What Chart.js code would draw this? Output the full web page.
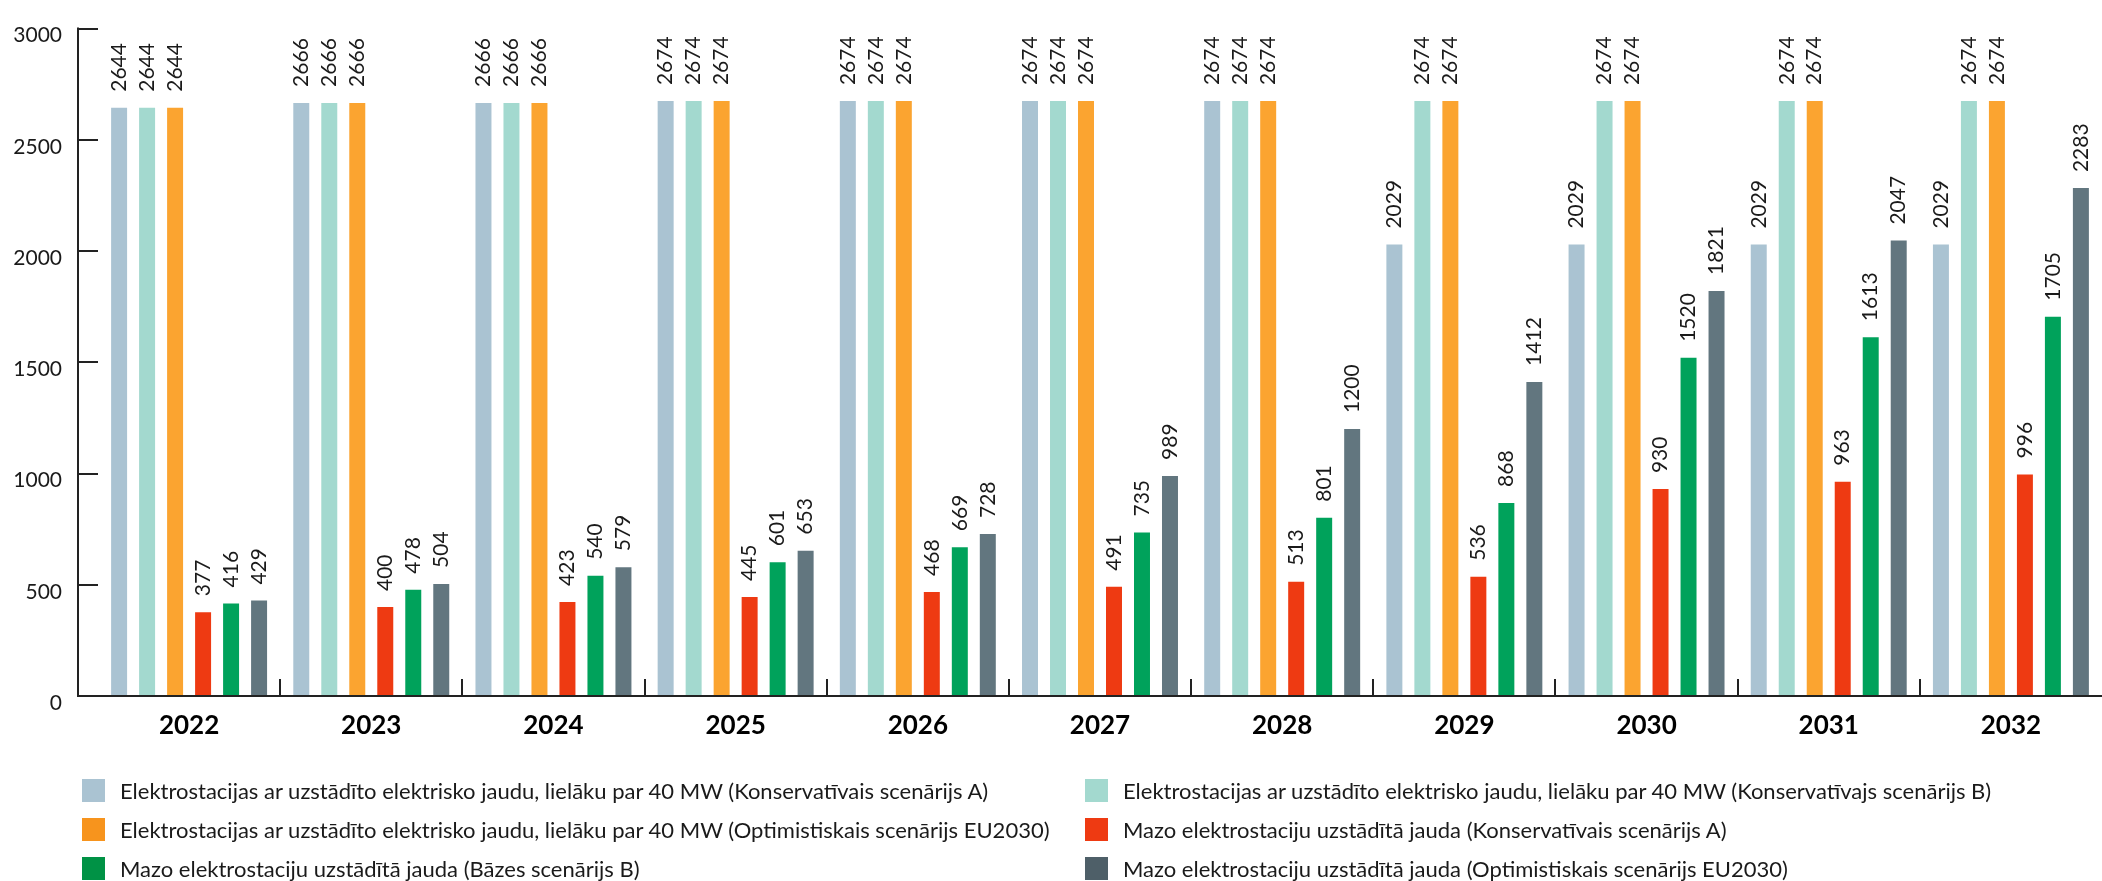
<!DOCTYPE html>
<html lang="lv">
<head>
<meta charset="utf-8">
<title>Uzstādītā jauda</title>
<script src="https://cdn.jsdelivr.net/npm/chart.js@4"></script>
<style>
    body { margin: 0; background: #fff; }
    #wrap { position: relative; width: 2102px; height: 881px; }
    #legend { position: absolute; left: 0; top: 0; font-family: Lato, sans-serif; font-size: 22px; color: #1a1a1a; }
    .item { position: absolute; display: flex; align-items: center; white-space: nowrap; height: 23px; }
    .box { width: 23px; height: 23px; margin-right: 15px; flex: none; }
</style>
</head>
<body>
<div id="wrap">
    <canvas id="myChart" width="2102" height="881"></canvas>
    <div id="legend"></div>
</div>
<script>
// Gadi uz X ass
const years = ['2022', '2023', '2024', '2025', '2026', '2027', '2028', '2029', '2030', '2031', '2032'];

// Y ass iedaļas
const yTicks = [0, 500, 1000, 1500, 2000, 2500, 3000];

// Sēriju nosaukumi
const seriesNames = [
    'Elektrostacijas ar uzstādīto elektrisko jaudu, lielāku par 40 MW (Konservatīvais scenārijs A)',
    'Elektrostacijas ar uzstādīto elektrisko jaudu, lielāku par 40 MW (Konservatīvajs scenārijs B)',
    'Elektrostacijas ar uzstādīto elektrisko jaudu, lielāku par 40 MW (Optimistiskais scenārijs EU2030)',
    'Mazo elektrostaciju uzstādītā jauda (Konservatīvais scenārijs A)',
    'Mazo elektrostaciju uzstādītā jauda (Bāzes scenārijs B)',
    'Mazo elektrostaciju uzstādītā jauda (Optimistiskais scenārijs EU2030)'
];

// Vērtības, MW
const lielasA = [2644, 2666, 2666, 2674, 2674, 2674, 2674, 2029, 2029, 2029, 2029];
const lielasB = [2644, 2666, 2666, 2674, 2674, 2674, 2674, 2674, 2674, 2674, 2674];
const lielasEU = [2644, 2666, 2666, 2674, 2674, 2674, 2674, 2674, 2674, 2674, 2674];
const mazasA = [377, 400, 423, 445, 468, 491, 513, 536, 930, 963, 996];
const mazasB = [416, 478, 540, 601, 669, 735, 801, 868, 1520, 1613, 1705];
const mazasEU = [429, 504, 579, 653, 728, 989, 1200, 1412, 1821, 2047, 2283];

const seriesValues = [lielasA, lielasB, lielasEU, mazasA, mazasB, mazasEU];
const barColors = ['#aac3d2', '#a3d9cf', '#fba430', '#ee3a12', '#00a25b', '#62767f'];
const legendColors = ['#aac3d2', '#a3d9cf', '#f7941d', '#ee3a12', '#009245', '#4e5f68'];

const inkColor = '#1a1a1a';
const axisColor = '#222';

// Vērtību uzraksti virs stabiņiem (pagriezti par 90°)
const valueLabels = {
    id: 'valueLabels',
    afterDatasetsDraw(chart) {
        const ctx = chart.ctx;
        ctx.save();
        ctx.font = '21px Lato, sans-serif';
        ctx.fillStyle = inkColor;
        ctx.textAlign = 'left';
        ctx.textBaseline = 'middle';
        chart.data.datasets.forEach((ds, i) => {
            chart.getDatasetMeta(i).data.forEach((bar, j) => {
                ctx.save();
                ctx.translate(bar.x, bar.y - 16);
                ctx.rotate(-Math.PI / 2);
                ctx.fillText(String(ds.data[j]), 0, 0);
                ctx.restore();
            });
        });
        ctx.restore();
    }
};

// Asu līnijas un atdalītāji starp gadiem
const axisLines = {
    id: 'axisLines',
    afterDraw(chart) {
        const ctx = chart.ctx;
        const x = chart.scales.x;
        const y = chart.scales.y;
        const axisX = chart.chartArea.left - 20;
        const bottom = y.getPixelForValue(0);
        ctx.save();
        ctx.strokeStyle = axisColor;
        ctx.lineWidth = 2;
        ctx.beginPath();
        ctx.moveTo(axisX, y.getPixelForValue(3000) - 1);
        ctx.lineTo(axisX, bottom);
        ctx.lineTo(chart.chartArea.right, bottom);
        for (let i = 1; i < years.length; i++) {
            const dx = Math.round((x.getPixelForTick(i - 1) + x.getPixelForTick(i)) / 2);
            ctx.moveTo(dx, bottom);
            ctx.lineTo(dx, bottom - 17);
        }
        ctx.stroke();
        ctx.restore();
    }
};

const chartData = {
    labels: years,
    datasets: seriesNames.map((name, i) => ({
        label: name,
        data: seriesValues[i],
        backgroundColor: barColors[i],
        borderWidth: 0,
        categoryPercentage: 0.922,
        barPercentage: 0.571
    }))
};

const chartConfig = {
    type: 'bar',
    data: chartData,
    options: {
        responsive: false,
        animation: false,
        devicePixelRatio: 1,
        layout: { padding: { top: 15, right: 0, bottom: 0, left: 0 } },
        scales: {
            x: {
                grid: { display: false, drawTicks: false },
                border: { display: false },
                ticks: {
                    color: '#000',
                    padding: 14,
                    font: { family: 'Lato, sans-serif', size: 26, weight: 'bold' }
                },
                afterFit(scale) { scale.height = 185; }
            },
            y: {
                min: 0,
                max: 3000,
                afterBuildTicks(scale) { scale.ticks = yTicks.map(v => ({ value: v })); },
                grid: {
                    drawOnChartArea: false,
                    drawTicks: true,
                    tickLength: 20,
                    color: axisColor,
                    lineWidth: 2
                },
                border: { display: false },
                ticks: {
                    color: inkColor,
                    padding: 16,
                    labelOffset: 7,
                    font: { family: 'Lato, sans-serif', size: 21 },
                    callback: (value) => String(value)
                },
                afterFit(scale) { scale.width = 98; }
            }
        },
        plugins: {
            legend: { display: false },
            tooltip: { enabled: false }
        }
    },
    plugins: [valueLabels, axisLines]
};

new Chart(document.getElementById('myChart').getContext('2d'), chartConfig);

// Leģenda divās kolonnās
const legendEl = document.getElementById('legend');
const legendOrder = [0, 2, 4, 1, 3, 5];
legendOrder.forEach((s, k) => {
    const col = Math.floor(k / 3);
    const row = k % 3;
    const item = document.createElement('div');
    item.className = 'item';
    item.style.left = (col === 0 ? 82 : 1085) + 'px';
    item.style.top = (779 + row * 39) + 'px';
    const box = document.createElement('span');
    box.className = 'box';
    box.style.background = legendColors[s];
    const text = document.createElement('span');
    text.textContent = seriesNames[s];
    item.appendChild(box);
    item.appendChild(text);
    legendEl.appendChild(item);
});
</script>
</body>
</html>
